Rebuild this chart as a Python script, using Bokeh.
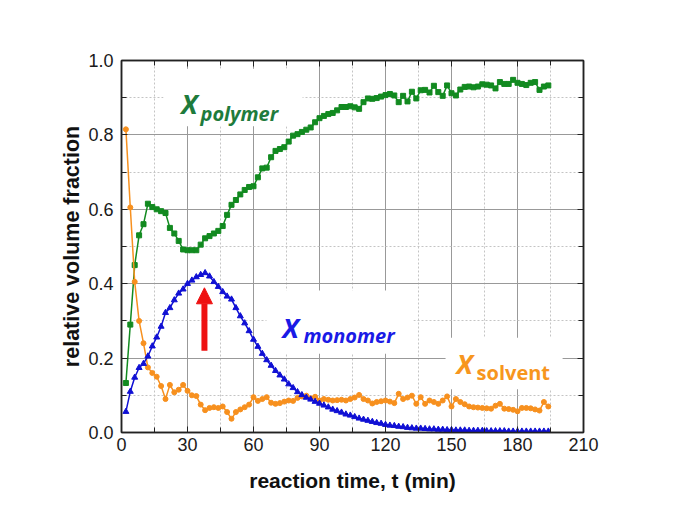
from bokeh.plotting import figure
from bokeh.models import (Range1d, LinearAxis, FixedTicker, PrintfTickFormatter,
                          Label, BoxAnnotation, Arrow, NormalHead, ColumnDataSource)
from bokeh.embed import file_html
from bokeh.resources import INLINE

time_min = list(range(2, 196, 2))

x_polymer = [0.133, 0.29, 0.45, 0.53, 0.56, 0.615, 0.606, 0.60, 0.595, 0.59,
             0.55, 0.535, 0.515, 0.492, 0.49, 0.49, 0.49, 0.505, 0.522, 0.528,
             0.535, 0.542, 0.555, 0.585, 0.612, 0.625, 0.64, 0.652, 0.66, 0.662,
             0.686, 0.71, 0.712, 0.74, 0.757, 0.762, 0.767, 0.782, 0.798, 0.802,
             0.808, 0.814, 0.82, 0.834, 0.845, 0.851, 0.856, 0.859, 0.866, 0.875,
             0.875, 0.877, 0.874, 0.87, 0.888, 0.898, 0.897, 0.899, 0.903, 0.907,
             0.91, 0.906, 0.888, 0.905, 0.89, 0.916, 0.898, 0.92, 0.921, 0.914,
             0.932, 0.915, 0.905, 0.933, 0.912, 0.906, 0.922, 0.929, 0.93, 0.928,
             0.93, 0.936, 0.935, 0.933, 0.925, 0.942, 0.937, 0.937, 0.948, 0.94,
             0.937, 0.934, 0.94, 0.942, 0.921, 0.93, 0.933]

x_monomer = [0.056, 0.11, 0.148, 0.174, 0.185, 0.205, 0.232, 0.256, 0.285, 0.322,
             0.335, 0.356, 0.374, 0.385, 0.40, 0.409, 0.418, 0.424, 0.429, 0.42,
             0.405, 0.392, 0.378, 0.366, 0.358, 0.335, 0.313, 0.294, 0.273, 0.25,
             0.231, 0.212, 0.195, 0.18, 0.166, 0.154, 0.143, 0.13, 0.12, 0.109,
             0.101, 0.094, 0.089, 0.083, 0.078, 0.073, 0.068, 0.062, 0.058, 0.054,
             0.049, 0.046, 0.042, 0.038, 0.035, 0.032, 0.029, 0.026, 0.024, 0.021,
             0.019, 0.018, 0.016, 0.015, 0.013, 0.012, 0.011, 0.011, 0.010, 0.009,
             0.009, 0.008, 0.008, 0.007, 0.007, 0.006, 0.006, 0.006, 0.005, 0.005,
             0.005, 0.005, 0.004, 0.004, 0.004, 0.004, 0.004, 0.003, 0.003, 0.003,
             0.003, 0.003, 0.003, 0.003, 0.003, 0.003, 0.003]

x_solvent = [0.815, 0.605, 0.405, 0.30, 0.24, 0.175, 0.16, 0.15, 0.125, 0.09,
             0.128, 0.108, 0.115, 0.128, 0.112, 0.10, 0.098, 0.075, 0.06, 0.066,
             0.068, 0.066, 0.07, 0.055, 0.037, 0.055, 0.062, 0.068, 0.075, 0.095,
             0.085, 0.09, 0.095, 0.08, 0.077, 0.079, 0.083, 0.086, 0.085, 0.093,
             0.097, 0.099, 0.092, 0.096, 0.086, 0.09, 0.088, 0.086, 0.087, 0.088,
             0.086, 0.09, 0.094, 0.101, 0.09, 0.086, 0.078, 0.082, 0.084, 0.086,
             0.083, 0.079, 0.104, 0.09, 0.094, 0.099, 0.077, 0.095, 0.077, 0.086,
             0.082, 0.077, 0.086, 0.097, 0.07, 0.09, 0.082, 0.076, 0.07, 0.068,
             0.067, 0.066, 0.065, 0.064, 0.072, 0.077, 0.064, 0.063, 0.061, 0.057,
             0.066, 0.066, 0.065, 0.062, 0.059, 0.082, 0.07]

x_ticks = [0, 30, 60, 90, 120, 150, 180, 210]
x_minor = [15, 45, 75, 105, 135, 165, 195]
y_ticks = [0.0, 0.2, 0.4, 0.6, 0.8, 1.0]
y_minor = [0.1, 0.3, 0.5, 0.7, 0.9]

GREEN = "#128a20"
ORANGE = "#f7901e"
BLUE = "#1010d4"
FONT = "Liberation Sans"
LFONT = "Open Sans"

p = figure(frame_width=462, frame_height=372,
           min_border_left=121, min_border_right=81,
           min_border_top=60, min_border_bottom=72,
           x_range=Range1d(0, 210), y_range=Range1d(0, 1.0),
           output_backend="svg", toolbar_location=None)
p.background_fill_color = "white"
p.border_fill_color = "white"
p.outline_line_color = "#222222"
p.outline_line_width = 1.5

xt = FixedTicker(ticks=x_ticks, minor_ticks=x_minor)
yt = FixedTicker(ticks=y_ticks, minor_ticks=y_minor)

for ax in p.xaxis:
    ax.ticker = xt
for ax in p.yaxis:
    ax.ticker = yt
    ax.formatter = PrintfTickFormatter(format="%.1f")

p.xgrid.ticker = xt
p.ygrid.ticker = yt
for g in (p.xgrid, p.ygrid):
    g.grid_line_color = "#999999"
    g.grid_line_width = 1
    g.minor_grid_line_color = "#c4c4c4"
    g.minor_grid_line_dash = "2 2"
    g.minor_grid_line_width = 1

def style_axis(ax, labels=True):
    ax.axis_line_color = "#222222"
    ax.axis_line_width = 1.5
    ax.major_tick_in = 6
    ax.major_tick_out = 0
    ax.minor_tick_in = 5
    ax.minor_tick_out = 0
    ax.major_tick_line_color = "#222222"
    ax.minor_tick_line_color = "#222222"
    ax.major_label_text_font = FONT
    ax.major_label_text_font_size = "18px"
    ax.major_label_text_color = "#1a1a1a"
    ax.axis_label_text_font = FONT
    ax.axis_label_text_font_size = "21px"
    ax.axis_label_text_font_style = "bold"
    ax.axis_label_text_color = "#111111"
    if not labels:
        ax.major_label_text_color = None

style_axis(p.xaxis[0])
style_axis(p.yaxis[0])
p.xaxis[0].major_label_standoff = 5
p.yaxis[0].major_label_standoff = 8
p.yaxis[0].axis_label = "relative volume fraction"
p.yaxis[0].axis_label_text_font_size = "21.5px"
p.yaxis[0].axis_label_standoff = 1
p.xaxis[0].axis_label = "reaction time, t (min)"
p.xaxis[0].axis_label_standoff = 15

top_ax = LinearAxis(ticker=xt)
right_ax = LinearAxis(ticker=yt)
style_axis(top_ax, labels=False)
style_axis(right_ax, labels=False)
p.add_layout(top_ax, "above")
p.add_layout(right_ax, "right")

# white boxes behind labels
for l, r, t, b in ((19.1, 82.3, 0.978, 0.823), (65.9, 132.7, 0.382, 0.212),
                   (147.3, 200.5, 0.255, 0.116)):
    p.add_layout(BoxAnnotation(left=l, right=r, top=t, bottom=b, fill_color="white",
                               fill_alpha=1.0, line_color=None, level="underlay"))

src = ColumnDataSource(dict(t=time_min, poly=x_polymer, mono=x_monomer, solv=x_solvent))

p.line("t", "poly", source=src, line_color=GREEN, line_width=1.5)
p.scatter("t", "poly", source=src, marker="square", size=5, color=GREEN)
p.line("t", "solv", source=src, line_color=ORANGE, line_width=1.5)
p.scatter("t", "solv", source=src, marker="circle", size=5, color=ORANGE)
p.line("t", "mono", source=src, line_color=BLUE, line_width=1.5)
p.scatter("t", "mono", source=src, marker="triangle", size=6, color=BLUE)

def add_lbl(xx, yy, sx, sy, sub, color, sub_style):
    p.add_layout(Label(x=xx, y=yy, text="X", text_font=LFONT, text_font_size="27px",
                       text_font_style="bold italic", text_color=color,
                       text_baseline="alphabetic", text_align="left"))
    p.add_layout(Label(x=sx, y=sy, text=sub, text_font=LFONT, text_font_size="20px",
                       text_font_style=sub_style, text_color=color,
                       text_baseline="alphabetic", text_align="left"))

add_lbl(27.2, 0.884, 35.9, 0.858, "polymer", "#1e7b3c", "bold italic")
add_lbl(73.2, 0.282, 82.7, 0.261, "monomer", "#1a1ae6", "bold italic")
add_lbl(152.3, 0.185, 161.4, 0.161, "solvent", "#f7961e", "bold")

p.add_layout(Arrow(end=NormalHead(size=16, fill_color="#ee1111", line_color="#ee1111"),
                   x_start=37.7, y_start=0.22, x_end=37.7, y_end=0.389,
                   line_color="#ee1111", line_width=6))

open("out.html", "w").write(file_html(p, INLINE))
